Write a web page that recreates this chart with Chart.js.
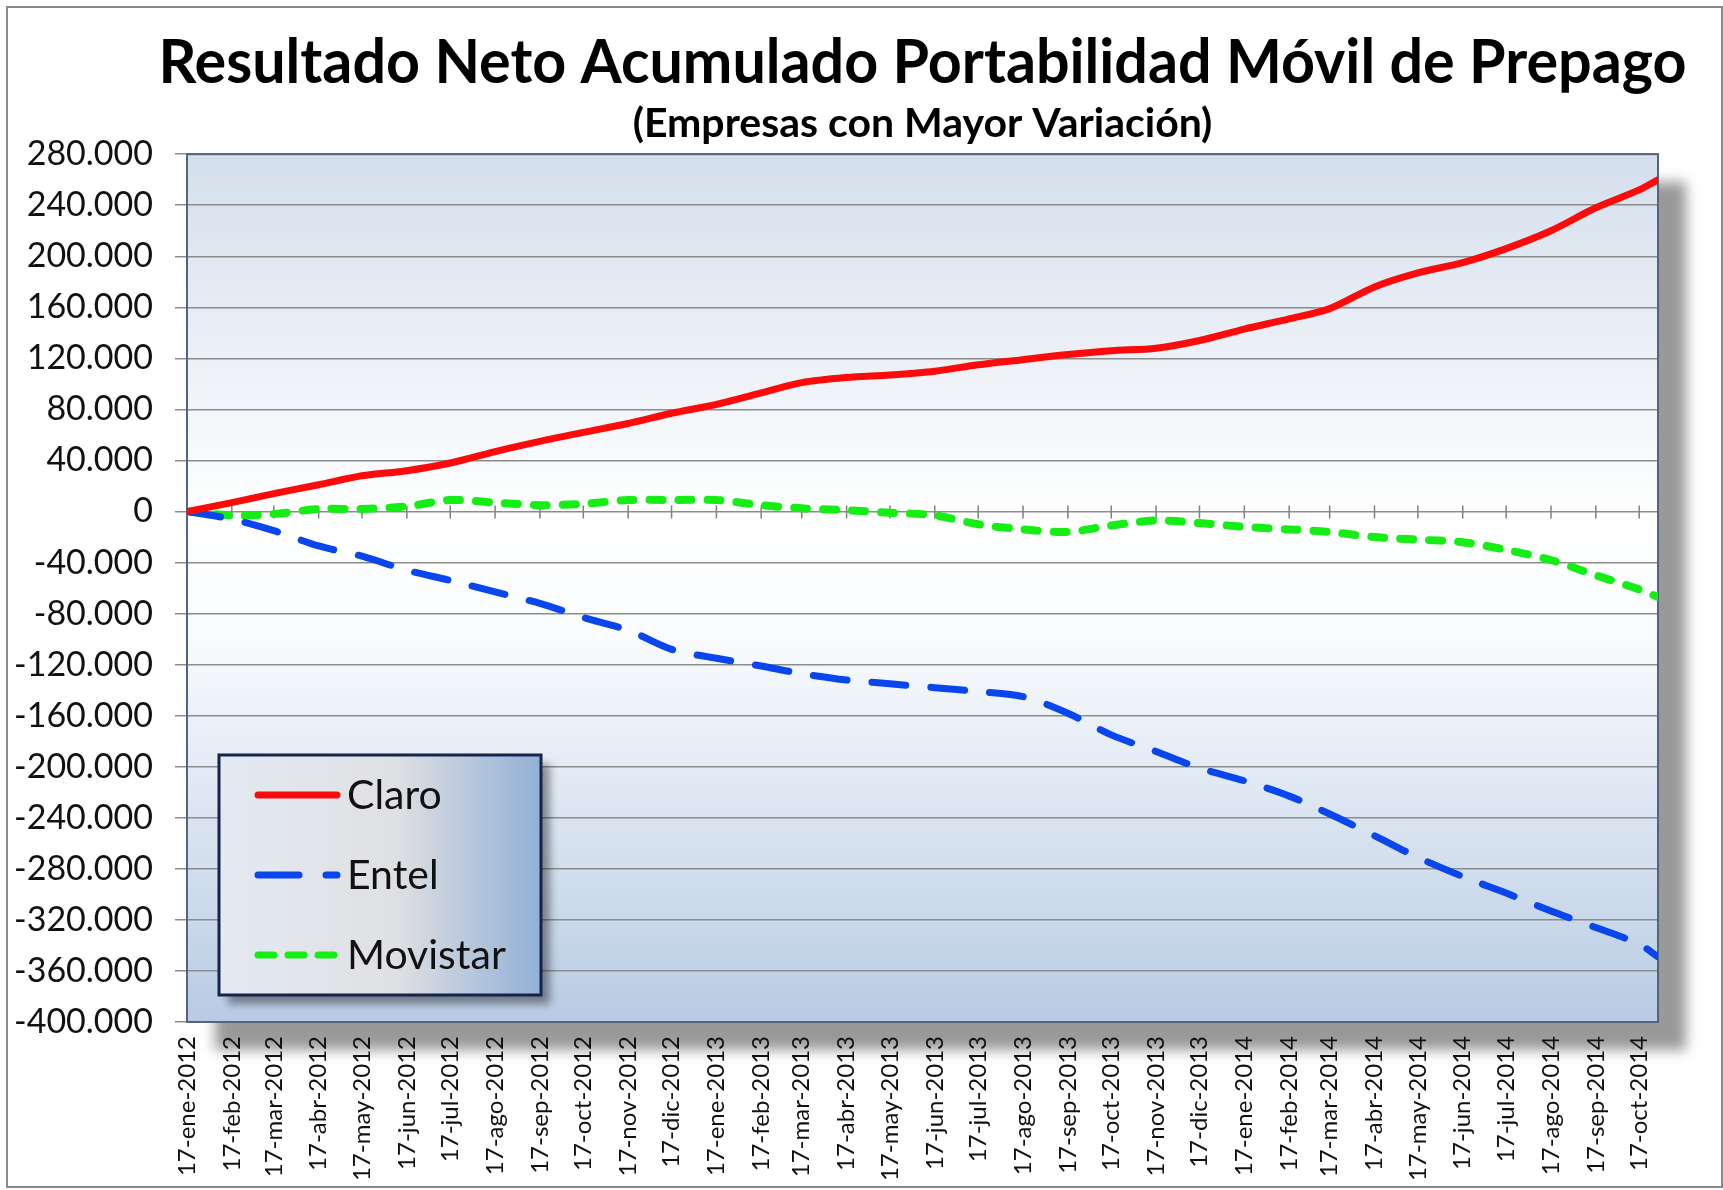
<!DOCTYPE html>
<html>
<head>
<meta charset="utf-8">
<script src="https://cdn.jsdelivr.net/npm/chart.js@4.4.1/dist/chart.umd.min.js"></script>
<style>
html, body { margin: 0; padding: 0; background: #fff; }
#wrap { width: 1723px; height: 1190px; }
</style>
</head>
<body>
<div id="wrap"><canvas id="chart" width="1723" height="1190"></canvas></div>
<script>
// month labels on the date axis (one per month, the 17th)
const tickLabels = [
    '17-ene-2012', '17-feb-2012', '17-mar-2012', '17-abr-2012', '17-may-2012', '17-jun-2012',
    '17-jul-2012', '17-ago-2012', '17-sep-2012', '17-oct-2012', '17-nov-2012', '17-dic-2012',
    '17-ene-2013', '17-feb-2013', '17-mar-2013', '17-abr-2013', '17-may-2013', '17-jun-2013',
    '17-jul-2013', '17-ago-2013', '17-sep-2013', '17-oct-2013', '17-nov-2013', '17-dic-2013',
    '17-ene-2014', '17-feb-2014', '17-mar-2014', '17-abr-2014', '17-may-2014', '17-jun-2014',
    '17-jul-2014', '17-ago-2014', '17-sep-2014', '17-oct-2014'
];
const lastDate = '30-oct-2014';

// values read at each month label, plus the last date
const claro = [
    0, 7000, 14000, 21000, 28000, 32000, 38000, 47000, 55000, 62000, 69000, 77000,
    84000, 93000, 101000, 105000, 107000, 110000, 115000, 119000, 123000, 126000, 128000, 134000,
    143000, 151000, 159000, 176000, 187000, 195000, 206000, 220000, 238000, 252000, 260000
];
const entel = [
    0, -6000, -15000, -27000, -35000, -46000, -54000, -63000, -72000, -83000, -93000, -108000,
    -115000, -121000, -127000, -132000, -135000, -138000, -141000, -145000, -158000, -175000, -188000, -201000,
    -211000, -223000, -237000, -254000, -271000, -286000, -299000, -313000, -326000, -339000, -349000
];
const movistar = [
    0, -3000, -2000, 2000, 2000, 4000, 9000, 7000, 5000, 6000, 9000, 9000,
    9000, 5000, 2500, 1000, -1000, -3000, -10000, -14000, -16000, -11000, -7000, -9000,
    -12000, -14000, -16000, -20000, -22000, -24000, -30000, -38000, -50000, -61000, -67000
];

const chartTitle = 'Resultado Neto Acumulado Portabilidad Móvil de Prepago';
const chartSubtitle = '(Empresas con Mayor Variación)';

const yMin = -400000;
const yMax = 280000;
const yStep = 40000;

const monthNames = ['ene', 'feb', 'mar', 'abr', 'may', 'jun', 'jul', 'ago', 'sep', 'oct', 'nov', 'dic'];

function dayIndex(label) {
    const [d, m, y] = label.split('-');
    return (Date.UTC(+y, monthNames.indexOf(m), +d) - Date.UTC(2012, 0, 17)) / 86400000;
}

const tickDays = tickLabels.map(dayIndex);
const pointDays = tickDays.concat([dayIndex(lastDate)]);

function toPoints(values) {
    return values.map((v, i) => ({ x: pointDays[i], y: v }));
}

function formatTick(value) {
    const s = Math.abs(value).toString().replace(/\B(?=(\d{3})+(?!\d))/g, '.');
    return (value < 0 ? '-' : '') + s;
}

const backdrop = {
    id: 'backdrop',
    beforeDraw(chart) {
        const { ctx, chartArea: a, width, height } = chart;
        ctx.save();
        ctx.fillStyle = '#fff';
        ctx.fillRect(0, 0, width, height);
        ctx.strokeStyle = '#8a8a8a';
        ctx.lineWidth = 2;
        ctx.strokeRect(7, 7, width - 8, height - 10);

        const g = ctx.createLinearGradient(0, a.top, 0, a.bottom);
        g.addColorStop(0, '#d4dfec');
        g.addColorStop(0.42, '#ffffff');
        g.addColorStop(0.55, '#fafcfe');
        g.addColorStop(1, '#b8cbe3');
        ctx.shadowColor = 'rgba(0,0,0,0.4)';
        ctx.shadowBlur = 12;
        ctx.shadowOffsetX = 28;
        ctx.shadowOffsetY = 28;
        ctx.fillStyle = g;
        ctx.fillRect(a.left, a.top, a.right - a.left, a.bottom - a.top);
        ctx.restore();
    },
    afterDraw(chart) {
        // main title, centred over the plot and squeezed to the reference width
        const { ctx, chartArea: a } = chart;
        ctx.save();
        ctx.fillStyle = '#000';
        ctx.font = 'bold 62px Lato';
        ctx.textAlign = 'center';
        ctx.textBaseline = 'middle';
        ctx.fillText(chartTitle, (a.left + a.right) / 2, 63, 1528);
        ctx.restore();
    }
};

const zeroAxis = {
    id: 'zeroAxis',
    beforeDatasetsDraw(chart) {
        const { ctx, chartArea: a, scales } = chart;
        const y0 = scales.y.getPixelForValue(0);
        ctx.save();
        ctx.strokeStyle = '#808080';
        ctx.lineWidth = 1.5;
        ctx.beginPath();
        tickDays.forEach(d => {
            const x = scales.x.getPixelForValue(d);
            ctx.moveTo(x, y0 - 6);
            ctx.lineTo(x, y0 + 7);
        });
        ctx.stroke();
        ctx.strokeStyle = '#56637e';
        ctx.lineWidth = 2;
        ctx.strokeRect(a.left, a.top, a.right - a.left, a.bottom - a.top);
        ctx.restore();
    }
};

const boxLegend = {
    id: 'boxLegend',
    afterDraw(chart) {
        const ctx = chart.ctx;
        const bx = 219, by = 755, bw = 322, bh = 240;
        ctx.save();
        const g = ctx.createLinearGradient(bx, 0, bx + bw, 0);
        g.addColorStop(0, '#e4eaf3');
        g.addColorStop(0.55, '#dfe0e2');
        g.addColorStop(1, '#92b0d6');
        ctx.shadowColor = 'rgba(0,0,0,0.4)';
        ctx.shadowBlur = 8;
        ctx.shadowOffsetX = 9;
        ctx.shadowOffsetY = 9;
        ctx.fillStyle = g;
        ctx.fillRect(bx, by, bw, bh);
        ctx.shadowColor = 'transparent';
        ctx.strokeStyle = '#17234d';
        ctx.lineWidth = 3;
        ctx.strokeRect(bx, by, bw, bh);

        const items = chart.data.datasets.map((ds, i) => ({
            label: ds.label,
            color: ds.borderColor,
            dash: ds.legendDash,
            y: [795, 875, 955][i]
        }));
        ctx.font = '41px Lato';
        ctx.textBaseline = 'middle';
        items.forEach(it => {
            ctx.strokeStyle = it.color;
            ctx.lineWidth = 7;
            ctx.lineCap = 'round';
            ctx.setLineDash(it.dash);
            ctx.beginPath();
            ctx.moveTo(258, it.y);
            ctx.lineTo(337, it.y);
            ctx.stroke();
            ctx.setLineDash([]);
            ctx.fillStyle = '#111';
            ctx.fillText(it.label, 347, it.y + 1);
        });
        ctx.restore();
    }
};

new Chart(document.getElementById('chart'), {
    type: 'line',
    data: {
        datasets: [
            {
                label: 'Claro',
                data: toPoints(claro),
                borderColor: '#ff0a0a',
                borderWidth: 7,
                borderCapStyle: 'round',
                legendDash: [],
                tension: 0.3
            },
            {
                label: 'Entel',
                data: toPoints(entel),
                borderColor: '#0a46ee',
                borderWidth: 7,
                borderDash: [34, 25],
                borderCapStyle: 'round',
                legendDash: [41, 27],
                tension: 0.3
            },
            {
                label: 'Movistar',
                data: toPoints(movistar),
                borderColor: '#14ee14',
                borderWidth: 8,
                borderDash: [13, 16],
                borderCapStyle: 'round',
                legendDash: [16, 14],
                tension: 0.3
            }
        ]
    },
    options: {
        responsive: false,
        animation: false,
        devicePixelRatio: 1,
        elements: { point: { radius: 0 } },
        layout: { padding: { left: 0, right: 65, top: 0, bottom: 0 } },
        scales: {
            x: {
                type: 'linear',
                min: 0,
                max: pointDays[pointDays.length - 1],
                afterBuildTicks: scale => {
                    scale.ticks = tickDays.map(v => ({ value: v }));
                },
                afterFit: scale => { scale.height = 168; },
                ticks: {
                    autoSkip: false,
                    minRotation: 90,
                    maxRotation: 90,
                    padding: 14,
                    color: '#111',
                    font: { family: 'Lato', size: 24 },
                    callback: (value, index) => tickLabels[index]
                },
                grid: { display: false, drawTicks: false },
                border: { display: false }
            },
            y: {
                min: yMin,
                max: yMax,
                afterFit: scale => { scale.width = 187; },
                ticks: {
                    stepSize: yStep,
                    padding: 22,
                    color: '#111',
                    font: { family: 'Lato', size: 34 },
                    callback: formatTick
                },
                grid: { color: '#8c8c8c', lineWidth: 1.5, tickLength: 12, tickColor: '#8c8c8c' },
                border: { display: false }
            }
        },
        plugins: {
            legend: { display: false },
            tooltip: { enabled: false },
            title: { display: false },
            subtitle: {
                display: true,
                fullSize: false,
                text: chartSubtitle,
                color: '#000',
                font: { family: 'Lato', weight: 'bold', size: 41 },
                padding: { top: 99, bottom: 6 }
            }
        }
    },
    plugins: [backdrop, zeroAxis, boxLegend]
});
</script>
</body>
</html>
